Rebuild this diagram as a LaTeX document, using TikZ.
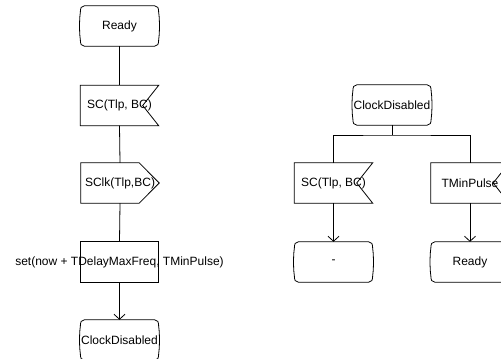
\documentclass[tikz,border=0pt]{standalone}
\usepackage{fontspec}
\setmainfont{Liberation Sans}
\usetikzlibrary{calc,arrows.meta}

\tikzset{
  outl/.style={draw=black, line width=0.8pt},
  sym/.style={rectangle, minimum width=78pt, minimum height=40pt, inner sep=0pt,
              font=\fontsize{12}{14}\selectfont},
  flow/.style={outl},
  arr/.style={outl, -{Straight Barb[length=5pt,width=11pt]}},
}

% SDL state symbol: box with bracket-like rounded sides
\newcommand\stateshape[1]{%
  \draw[outl] ($(#1.north west)+(4,0)$) -- ($(#1.north east)+(-4,0)$)
    .. controls ($(#1.north east)+(-1,0)$) and ($(#1.north east)+(0,2)$) .. ($(#1.north east)+(0,7)$)
    .. controls ($(#1.east)+(1,-8)$) and ($(#1.east)+(1,8)$) .. ($(#1.south east)+(0,-7)$)
    .. controls ($(#1.south east)+(0,-2)$) and ($(#1.south east)+(-1,0)$) .. ($(#1.south east)+(-4,0)$)
    -- ($(#1.south west)+(4,0)$)
    .. controls ($(#1.south west)+(1,0)$) and ($(#1.south west)+(0,-2)$) .. ($(#1.south west)+(0,-7)$)
    .. controls ($(#1.west)+(-1,8)$) and ($(#1.west)+(-1,-8)$) .. ($(#1.north west)+(0,7)$)
    .. controls ($(#1.north west)+(0,2)$) and ($(#1.north west)+(1,0)$) .. cycle;}

% SDL input symbol: notch cut into the east side
\newcommand\inputshape[1]{%
  \draw[outl] (#1.north west) -- (#1.north east) -- ($(#1.east)+(-16,0)$)
    -- (#1.south east) -- (#1.south west) -- cycle;}

% SDL output symbol: point on the east side
\newcommand\outputshape[1]{%
  \draw[outl] (#1.north west) -- ($(#1.north east)+(-20,0)$) -- (#1.east)
    -- ($(#1.south east)+(-20,0)$) -- (#1.south west) -- cycle;}

\begin{document}
\begin{tikzpicture}[x=1pt,y=-1pt]
  \clip (0,0) rectangle (501,359);

  % ---- transition from Ready ----
  \node[sym] (ready1) at (119.5,26)    {Ready};
  \node[sym] (sc1)    at (119.5,105.5) {SC(Tlp, BC)};
  \node[sym] (sclk)   at (120,183)     {SClk(Tlp,BC)};
  \node[sym, label={[font=\fontsize{12}{14}\selectfont]center:set(now + TDelayMaxFreq, TMinPulse)}]
                      (settm)  at (119.5,262) {};
  \node[sym] (cd1)    at (119.5,340)   {ClockDisabled};

  \stateshape{ready1}
  \inputshape{sc1}
  \outputshape{sclk}
  \draw[outl] (settm.north west) rectangle (settm.south east);
  \stateshape{cd1}

  \draw[flow] (ready1.south) -- (sc1.north);
  \draw[flow] (sc1.south) -- (sclk.north);
  \draw[flow] (sclk.south) -- (settm.north);
  \draw[arr]  (settm.south) -- (cd1.north);

  % ---- transitions from ClockDisabled ----
  \node[sym] (cd2)    at (392,105)   {ClockDisabled};
  \coordinate (fork)  at (392,135);
  \node[sym] (sc2)    at (333.5,183) {SC(Tlp, BC)};
  \node[sym] (tmp)    at (470,183)   {TMinPulse\hspace{8pt}};
  \node[sym] (dash)   at (333.5,262) {-};
  \node[sym] (ready2) at (470,262)   {Ready};

  \stateshape{cd2}
  \inputshape{sc2}
  \inputshape{tmp}
  \stateshape{dash}
  \stateshape{ready2}

  \draw[flow] (cd2.south) -- (fork);
  \draw[flow] (sc2.north) |- (fork) -| (tmp.north);
  \draw[arr]  (sc2.south) -- (dash.north);
  \draw[arr]  (tmp.south) -- (ready2.north);
\end{tikzpicture}
\end{document}
